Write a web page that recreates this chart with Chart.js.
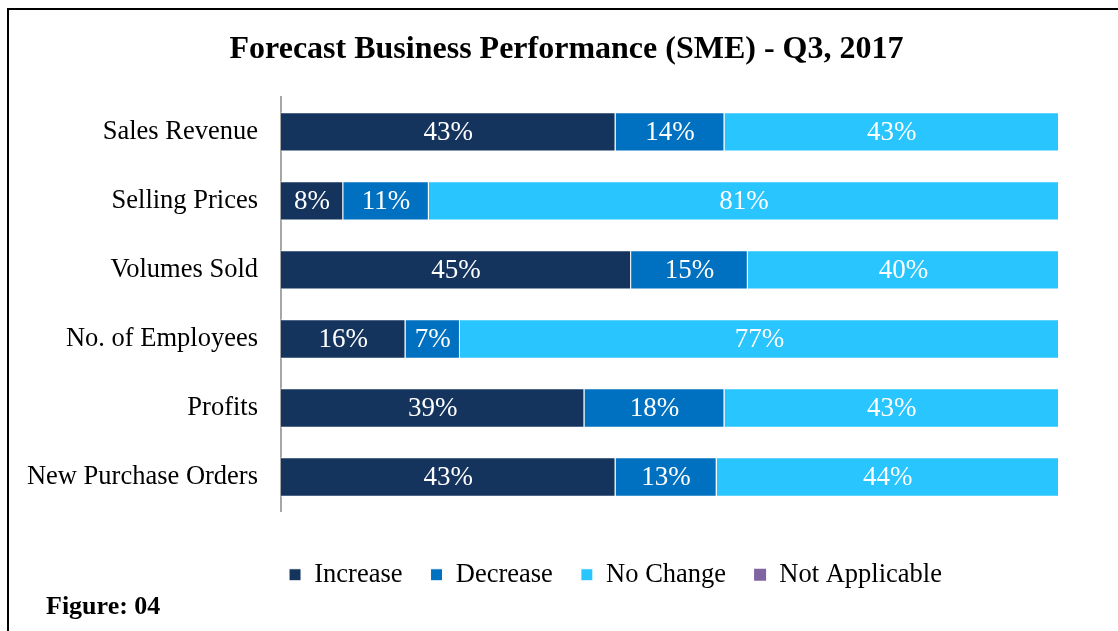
<!DOCTYPE html>
<html>
<head>
<meta charset="utf-8">
<script src="https://cdn.jsdelivr.net/npm/chart.js@4.4.1/dist/chart.umd.min.js"></script>
<style>
  html, body { margin: 0; padding: 0; background: #fff; overflow: hidden; }
  #wrap { position: relative; width: 1118px; height: 631px; }
  #frame { position: absolute; left: 7px; top: 8px; width: 1200px; height: 700px;
           border-left: 2px solid #000; border-top: 2px solid #000; }
  #fig { position: absolute; left: 46px; top: 591px; line-height: 30px; font: bold 26px "Liberation Serif", serif; color: #000; }
  canvas { position: absolute; left: 0; top: 0; }
</style>
</head>
<body>
<div id="wrap">
  <div id="frame"></div>
  <canvas id="chartContainer" width="1118" height="631"></canvas>
  <div id="fig">Figure: 04</div>
</div>
<script>
var categories = ["Sales Revenue", "Selling Prices", "Volumes Sold", "No. of Employees", "Profits", "New Purchase Orders"];
var increase = [43, 8, 45, 16, 39, 43];
var decrease = [14, 11, 15, 7, 18, 13];
var no_change = [43, 81, 40, 77, 43, 44];
var not_applicable = [0, 0, 0, 0, 0, 0];

var serif = "'Liberation Serif', 'Times New Roman', serif";

// white % labels in the middle of each segment
var barLabels = {
    id: "barLabels",
    afterDatasetsDraw: function(chart) {
        var ctx = chart.ctx;
        ctx.save();
        ctx.font = "27px " + serif;
        ctx.fillStyle = "#ffffff";
        ctx.textAlign = "center";
        ctx.textBaseline = "middle";
        chart.data.datasets.forEach(function(dataset, i) {
            var meta = chart.getDatasetMeta(i);
            meta.data.forEach(function(bar, j) {
                var v = dataset.data[j];
                if (!v) return;
                ctx.fillText(v + "%", (bar.x + bar.base) / 2, bar.y + 1);
            });
        });
        ctx.restore();
    }
};

// title and legend are not centred on the same spot in the original
var shiftBlocks = {
    id: "shiftBlocks",
    afterLayout: function(chart) {
        chart.titleBlock.left += 37;
        chart.titleBlock.right += 37;
        chart.legend.left += 86;
        chart.legend.right += 86;
    }
};

var ctx = document.getElementById('chartContainer').getContext('2d');
var cfg = {
    type: "bar",
    data: {
        labels: categories,
        datasets: [{
            label: "Increase",
            data: increase,
            backgroundColor: "#14345E",
            borderColor: "#ffffff",
            borderWidth: 1,
        }, {
            label: "Decrease",
            data: decrease,
            backgroundColor: "#0070C0",
            borderColor: "#ffffff",
            borderWidth: 1,
        }, {
            label: "No Change",
            data: no_change,
            backgroundColor: "#29C5FF",
            borderColor: "#ffffff",
            borderWidth: 1,
        }, {
            label: "Not Applicable",
            data: not_applicable,
            backgroundColor: "#8064A2",
            borderWidth: 0,
        }],
    },
    options: {
        indexAxis: "y",
        responsive: false,
        animation: false,
        layout: {
            padding: { top: 31, right: 59, bottom: 33, left: 0 }
        },
        datasets: {
            bar: { barPercentage: 0.57, categoryPercentage: 1 }
        },
        plugins: {
            title: {
                display: true,
                text: "Forecast Business Performance (SME) - Q3, 2017",
                color: "#000",
                font: { family: serif, size: 32, weight: "bold" },
                padding: { top: 0, bottom: 28 }
            },
            legend: {
                position: "bottom",
                labels: {
                    color: "#000",
                    font: { family: serif, size: 26.5 },
                    boxWidth: 12,
                    boxHeight: 12,
                    padding: 28
                }
            },
            tooltip: { enabled: false }
        },
        scales: {
            x: {
                stacked: true,
                min: 0,
                max: 100,
                grid: { display: false },
                border: { display: false },
                ticks: { display: false },
                afterFit: function(scale) {
                    scale.height = 22;
                }
            },
            y: {
                stacked: true,
                grid: { display: false },
                border: { display: true, color: "#A6A6A6", width: 2 },
                ticks: {
                    color: "#000",
                    font: { family: serif, size: 26.5 },
                    padding: 15
                },
                afterFit: function(scale) {
                    scale.width = 281;
                }
            }
        }
    },
    plugins: [barLabels, shiftBlocks]
};
var business_chart = new Chart(ctx, cfg);
</script>
</body>
</html>
